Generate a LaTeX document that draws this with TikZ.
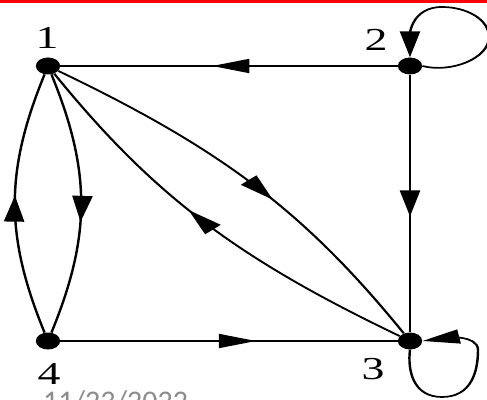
\documentclass[tikz,border=0pt]{standalone}
\usepackage{fontspec}
\setmainfont{Liberation Serif}
\newfontfamily\datefont{Carlito}
\usetikzlibrary{arrows.meta,decorations.markings}

\begin{document}
\begin{tikzpicture}[x=1pt,y=1pt,
    vertex/.style={circle,fill=black,inner sep=0pt,minimum size=17pt},
    lbl/.style={font=\fontsize{32}{32}\selectfont,inner sep=0pt},
    link/.style={line width=1.7pt,postaction={decorate},
        decoration={markings,mark=at position #1 with {\arrow{Triangle[length=26pt,width=14pt]}}}},
    link/.default=0.55,
    loopline/.style={line width=1.7pt,-{Triangle[length=26pt,width=14pt]}}]
    \useasboundingbox (0,0) rectangle (487,399);
    \clip (0,0) rectangle (487,399);
    \draw[red,line width=3pt] (0,397) -- (487,397);
    \node[anchor=base west,inner sep=0pt,text=black!45,font=\datefont\fontsize{30}{30}\selectfont] (date) at (43,-12) {11/23/2022};

    % the graph is drawn wider than tall
    \begin{scope}[transform canvas={xscale=1.43},x=0.6993pt]
    \node[vertex] (v1) at (48,333) {};
    \node[vertex] (v2) at (410,333) {};
    \node[vertex] (v3) at (410,58) {};
    \node[vertex] (v4) at (48,58) {};

    \node[lbl] (l1) at (47,361) {1};
    \node[lbl] (l2) at (376,359) {2};
    \node[lbl] (l3) at (373,30) {3};
    \node[lbl] (l4) at (49,25) {4};

    \draw[link=0.55] (v2) -- (v1);
    \draw[link=0.55] (v2) -- (v3);
    \draw[link=0.58] (v4) -- (v3);
    \draw[link=0.53] (v4) to[bend left=16] (v1);
    \draw[link=0.57] (v1) to[bend left=16] (v4);
    \draw[link=0.55] (v1) to[bend left=13] (v3);
    \draw[link=0.54] (v3) to[bend left=13] (v1);

    \draw[loopline] (v2.east) to[out=-20,in=-90] (489,362) to[out=90,in=0] (442,392)
        to[out=180,in=90] (v2.north);
    \draw[loopline] (v3.south) to[out=-95,in=180] (442,2) to[out=0,in=-90] (478,49)
        to[out=90,in=10] (v3.east);
    \end{scope}
\end{tikzpicture}
\end{document}
